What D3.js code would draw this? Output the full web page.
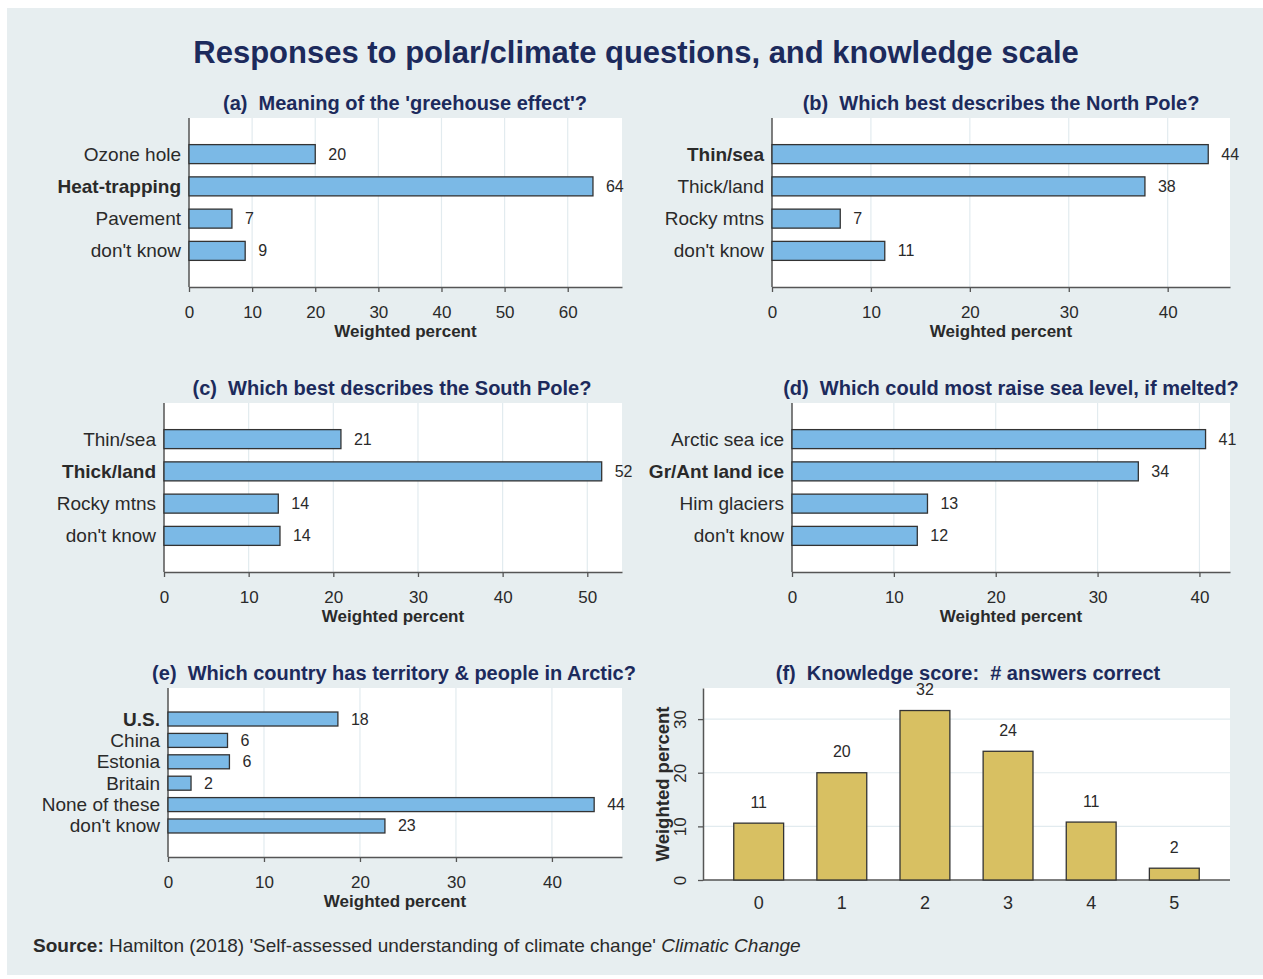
<!DOCTYPE html>
<html>
<head>
<meta charset="utf-8">
<script src="https://cdn.jsdelivr.net/npm/d3@7"></script>
<style>
  body { margin: 0; background: #fff; }
  svg { display: block; font-family: "Liberation Sans", Arial, sans-serif; }
  text { white-space: pre; }
</style>
</head>
<body>
<div id="chart"></div>
<script>
// survey answers, weighted percent (bold = correct answer)
const catsA = ["Ozone hole", "Heat-trapping", "Pavement", "don't know"];
const valsA = [20.0, 64.0, 6.8, 8.9];
const catsB = ["Thin/sea", "Thick/land", "Rocky mtns", "don't know"];
const valsB = [44.1, 37.7, 6.9, 11.4];
const catsC = ["Thin/sea", "Thick/land", "Rocky mtns", "don't know"];
const valsC = [20.9, 51.7, 13.5, 13.7];
const catsD = ["Arctic sea ice", "Gr/Ant land ice", "Him glaciers", "don't know"];
const valsD = [40.6, 34.0, 13.3, 12.3];
const catsE = ["U.S.", "China", "Estonia", "Britain", "None of these", "don't know"];
const valsE = [17.7, 6.2, 6.4, 2.4, 44.4, 22.6];
const scoresF = ["0", "1", "2", "3", "4", "5"];
const valsF = [10.6, 20.0, 31.6, 24.0, 10.8, 2.2];

const W = 1263, H = 979;
const navy = "#1c2a5c", txt = "#2a2a2a", axisCol = "#555", grid = "#e2ebef";
const blue = "#7bb9e6", gold = "#d8c062", outline = "#333";

const svg = d3.select("#chart").append("svg")
  .attr("width", W).attr("height", H);

svg.append("rect").attr("x", 7).attr("y", 8).attr("width", W - 7).attr("height", 967)
  .attr("fill", "#e7eef0");

svg.append("text")
  .attr("x", 636).attr("y", 52).attr("text-anchor", "middle").attr("dominant-baseline", "central")
  .attr("font-size", 31).attr("font-weight", "bold").attr("fill", navy)
  .text("Responses to polar/climate questions, and knowledge scale");

function hbar(p) {
  const g = svg.append("g");
  const x = d3.scaleLinear().domain([0, p.max]).range([p.left, p.right]);
  const y = d3.scalePoint().domain(p.cats).range([p.top, p.bottom]).padding(p.pad);
  const ticks = d3.range(0, p.max, 10);

  g.append("text")
    .attr("x", p.titleX).attr("y", p.top - 15).attr("text-anchor", "middle")
    .attr("dominant-baseline", "central")
    .attr("font-size", 20).attr("font-weight", "bold").attr("fill", navy)
    .text(p.title);

  g.append("rect").attr("x", p.left).attr("y", p.top)
    .attr("width", p.right - p.left).attr("height", p.bottom - p.top).attr("fill", "#fff");

  g.selectAll(".grid").data(ticks.slice(1)).join("line")
    .attr("x1", d => x(d)).attr("x2", d => x(d))
    .attr("y1", p.top).attr("y2", p.bottom)
    .attr("stroke", grid).attr("stroke-width", 1.2);

  const xa = g.append("g").attr("transform", `translate(0,${p.bottom})`)
    .call(d3.axisBottom(x).tickValues(ticks).tickSize(5).tickSizeOuter(0).tickPadding(14));
  xa.select(".domain").attr("stroke", axisCol).attr("stroke-width", 1.5);
  xa.selectAll(".tick line").attr("stroke", axisCol).attr("stroke-width", 1.3);
  xa.selectAll(".tick text").attr("font-size", 17).attr("fill", txt)
    .attr("font-family", "Liberation Sans, Arial, sans-serif");

  g.append("text")
    .attr("x", (p.left + p.right) / 2).attr("y", p.bottom + 44)
    .attr("text-anchor", "middle").attr("dominant-baseline", "central")
    .attr("font-size", 17).attr("font-weight", "bold").attr("fill", txt)
    .text("Weighted percent");

  g.append("line").attr("x1", p.left).attr("x2", p.left)
    .attr("y1", p.top).attr("y2", p.bottom)
    .attr("stroke", axisCol).attr("stroke-width", 1.5);

  g.selectAll(".lab").data(p.cats).join("text")
    .attr("x", p.left - 8).attr("y", d => y(d))
    .attr("text-anchor", "end").attr("dominant-baseline", "central")
    .attr("font-size", 19).attr("fill", txt)
    .attr("font-weight", (d, i) => i === p.correct ? "bold" : "normal")
    .text(d => d);

  g.selectAll(".bar").data(p.vals).join("rect")
    .attr("x", x(0)).attr("y", (d, i) => y(p.cats[i]) - p.bh / 2)
    .attr("width", d => x(d) - x(0)).attr("height", p.bh)
    .attr("fill", blue).attr("stroke", outline).attr("stroke-width", 1.3);

  g.selectAll(".val").data(p.vals).join("text")
    .attr("x", d => x(d) + 13).attr("y", (d, i) => y(p.cats[i]))
    .attr("dominant-baseline", "central")
    .attr("font-size", 16).attr("fill", txt)
    .text(d => Math.round(d));
}

hbar({ title: "(a)  Meaning of the 'greehouse effect'?", titleX: 405,
  cats: catsA, vals: valsA, correct: 1, max: 68.6,
  left: 189, right: 622, top: 118, bottom: 287, pad: 1.12, bh: 19 });
hbar({ title: "(b)  Which best describes the North Pole?", titleX: 1001,
  cats: catsB, vals: valsB, correct: 0, max: 46.3,
  left: 772, right: 1230, top: 118, bottom: 287, pad: 1.12, bh: 19 });
hbar({ title: "(c)  Which best describes the South Pole?", titleX: 392,
  cats: catsC, vals: valsC, correct: 1, max: 54.1,
  left: 164, right: 622, top: 403, bottom: 572, pad: 1.12, bh: 19 });
hbar({ title: "(d)  Which could most raise sea level, if melted?", titleX: 1011,
  cats: catsD, vals: valsD, correct: 1, max: 43.0,
  left: 792, right: 1230, top: 403, bottom: 572, pad: 1.12, bh: 19 });
hbar({ title: "(e)  Which country has territory & people in Arctic?", titleX: 394,
  cats: catsE, vals: valsE, correct: 0, max: 47.3,
  left: 168, right: 622, top: 688, bottom: 857, pad: 1.45, bh: 14 });

// (f) knowledge score histogram
(function () {
  const left = 703, right = 1230, top = 688, bottom = 880;
  const g = svg.append("g");
  const x = d3.scaleBand().domain(scoresF).range([left, right])
    .paddingInner(0.4).paddingOuter(0.37);
  const y = d3.scaleLinear().domain([0, 35.8]).range([bottom, top]);
  const ticks = [0, 10, 20, 30];

  g.append("text")
    .attr("x", 968).attr("y", top - 15).attr("text-anchor", "middle")
    .attr("dominant-baseline", "central")
    .attr("font-size", 20).attr("font-weight", "bold").attr("fill", navy)
    .text("(f)  Knowledge score:  # answers correct");

  g.append("rect").attr("x", left).attr("y", top)
    .attr("width", right - left).attr("height", bottom - top).attr("fill", "#fff");

  g.selectAll(".grid").data(ticks.slice(1)).join("line")
    .attr("x1", left).attr("x2", right)
    .attr("y1", d => y(d)).attr("y2", d => y(d))
    .attr("stroke", grid).attr("stroke-width", 1.2);

  const ya = g.append("g").attr("transform", `translate(${left},0)`)
    .call(d3.axisLeft(y).tickValues(ticks).tickSize(5).tickSizeOuter(0));
  ya.select(".domain").attr("stroke", axisCol).attr("stroke-width", 1.5);
  ya.selectAll(".tick line").attr("stroke", axisCol).attr("stroke-width", 1.3);
  ya.selectAll(".tick text")
    .attr("font-size", 17).attr("fill", txt).attr("font-family", "Liberation Sans, Arial, sans-serif")
    .attr("text-anchor", "middle").attr("x", 0).attr("dy", 0)
    .attr("transform", "translate(-23,0) rotate(-90)")
    .attr("dominant-baseline", "central");

  g.append("text")
    .attr("transform", `translate(662,${(top + bottom) / 2}) rotate(-90)`)
    .attr("text-anchor", "middle").attr("dominant-baseline", "central")
    .attr("font-size", 18.5).attr("font-weight", "bold").attr("fill", txt)
    .text("Weighted percent");

  g.append("line").attr("x1", left).attr("x2", right)
    .attr("y1", bottom).attr("y2", bottom)
    .attr("stroke", axisCol).attr("stroke-width", 1.5);

  g.selectAll(".bar").data(valsF).join("rect")
    .attr("x", (d, i) => x(scoresF[i])).attr("y", d => y(d))
    .attr("width", x.bandwidth()).attr("height", d => y(0) - y(d))
    .attr("fill", gold).attr("stroke", outline).attr("stroke-width", 1.3);

  g.selectAll(".val").data(valsF).join("text")
    .attr("x", (d, i) => x(scoresF[i]) + x.bandwidth() / 2).attr("y", d => y(d) - 21)
    .attr("text-anchor", "middle").attr("dominant-baseline", "central")
    .attr("font-size", 16).attr("fill", txt)
    .text(d => Math.round(d));

  g.selectAll(".cat").data(scoresF).join("text")
    .attr("x", d => x(d) + x.bandwidth() / 2).attr("y", bottom + 23)
    .attr("text-anchor", "middle").attr("dominant-baseline", "central")
    .attr("font-size", 18).attr("fill", txt)
    .text(d => d);
})();

const src = svg.append("text").attr("x", 33).attr("y", 945)
  .attr("dominant-baseline", "central").attr("font-size", 19).attr("fill", txt);
src.append("tspan").attr("font-weight", "bold").text("Source:");
src.append("tspan").text(" Hamilton (2018) 'Self-assessed understanding of climate change' ");
src.append("tspan").attr("font-style", "italic").text("Climatic Change");
</script>
</body>
</html>
